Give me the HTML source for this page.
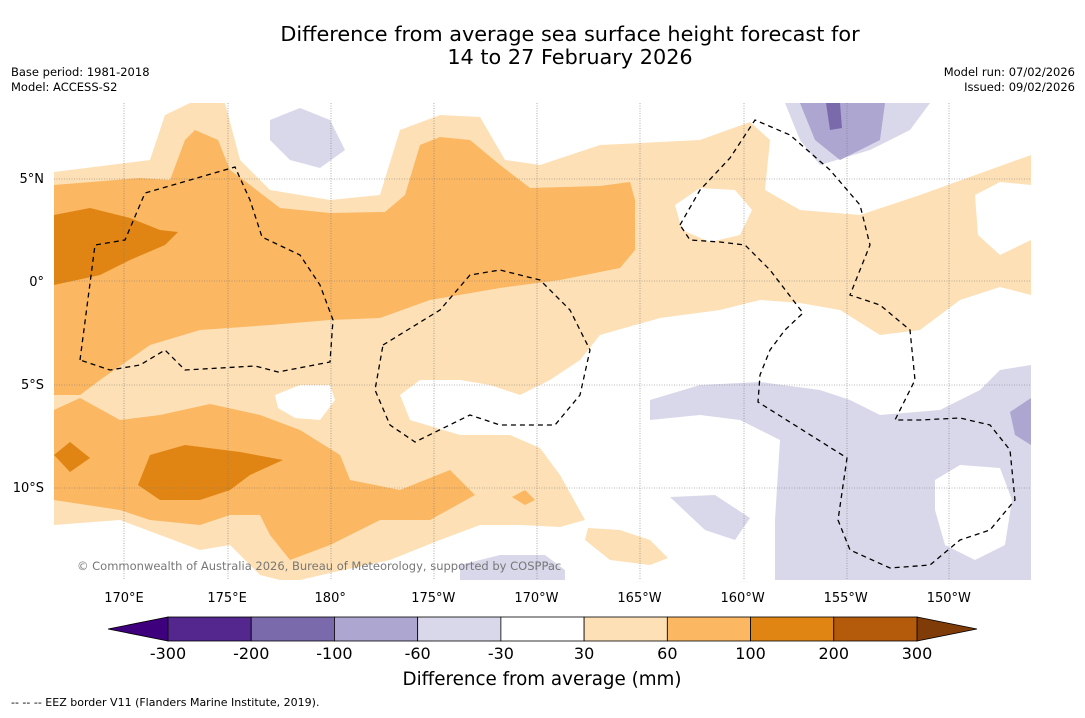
<!DOCTYPE html>
<html><head><meta charset="utf-8"><style>
body{margin:0;background:#fff;}
svg text{font-family:"DejaVu Sans","Liberation Sans",sans-serif;}
</style></head><body>
<svg id="fig" width="1085" height="713" viewBox="0 0 1085 713" xmlns="http://www.w3.org/2000/svg">
<rect width="1085" height="713" fill="#fff"/>
<text x="570" y="41" font-size="20.8" text-anchor="middle">Difference from average sea surface height forecast for</text>
<text x="570" y="64" font-size="20.8" text-anchor="middle">14 to 27 February 2026</text>
<text x="11" y="76" font-size="11.5">Base period: 1981-2018</text>
<text x="11" y="91" font-size="11.5">Model: ACCESS-S2</text>
<text x="1075" y="76" font-size="11.5" text-anchor="end">Model run: 07/02/2026</text>
<text x="1075" y="91" font-size="11.5" text-anchor="end">Issued: 09/02/2026</text>

<g id="map">
<clipPath id="mc"><rect x="54" y="103" width="977" height="477"/></clipPath>
<g clip-path="url(#mc)">
<polygon fill="#fde0b5" points="54,172 150,160 165,115 190,103 225,103 240,160 270,190 330,200 380,195 400,130 440,115 480,117 505,160 540,165 600,145 700,140 750,122 770,140 765,190 800,210 860,215 920,195 1031,155 1031,295 1000,287 960,300 920,330 880,335 840,310 800,303 760,300 720,310 660,318 600,335 580,360 550,380 520,395 490,385 460,380 420,380 400,395 410,420 460,435 510,435 540,448 560,475 585,520 560,527 520,525 480,525 440,540 390,560 330,573 300,580 54,580"/>
<polygon fill="#fff" points="275,395 300,385 330,385 335,400 320,420 295,418 278,408"/>
<polygon fill="#fff" points="675,205 700,188 735,190 752,210 740,235 710,242 682,230"/>
<polygon fill="#fff" points="975,195 1000,182 1031,185 1031,240 1000,255 978,235"/>
<polygon fill="#fff" points="54,525 120,520 200,550 230,545 260,575 280,580 54,580"/>
<polygon fill="#fde0b5" points="588,528 620,530 650,540 668,558 650,565 610,560 585,540"/>
<polygon fill="#fbb762" points="54,185 140,178 170,180 185,140 195,130 218,140 230,170 250,185 280,208 330,213 385,212 405,195 420,145 440,137 470,140 500,165 530,188 600,186 630,182 635,200 635,250 620,268 560,280 500,288 430,300 380,318 330,320 270,325 200,330 150,345 100,380 80,395 54,395"/>
<polygon fill="#fbb762" points="54,410 80,398 120,420 160,415 210,404 260,415 300,430 340,455 350,480 400,490 450,470 475,495 430,520 380,520 330,545 290,560 270,535 260,515 230,515 200,525 150,520 120,510 54,500"/>
<polygon fill="#e08514" points="54,215 90,208 130,218 160,230 178,232 165,245 130,260 100,275 54,285"/>
<polygon fill="#e08514" points="150,455 185,445 240,452 283,460 250,475 230,490 200,500 160,500 138,485"/>
<polygon fill="#e08514" points="54,455 70,442 90,458 70,472"/>
<polygon fill="#fbb762" points="512,497 525,490 535,500 525,505"/>
<polygon fill="#d8d8ea" points="270,120 300,108 330,120 345,150 320,168 290,160 270,140"/>
<polygon fill="#d8d8ea" points="785,103 930,103 910,130 870,150 820,165 800,140"/>
<polygon fill="#aca6d0" points="800,103 885,103 880,140 840,160 815,140"/>
<polygon fill="#7b6aab" points="826,103 840,103 842,128 830,130"/>
<polygon fill="#d8d8ea" points="650,400 700,385 760,382 820,390 850,400 880,415 940,410 980,390 1000,370 1031,365 1031,580 775,580 775,520 780,440 740,420 700,415 650,420"/>
<polygon fill="#fff" points="935,480 960,465 1000,468 1012,500 1005,545 975,560 945,545 935,510"/>
<polygon fill="#aca6d0" points="1010,412 1031,398 1031,445 1015,435"/>
<polygon fill="#d8d8ea" points="670,497 715,495 750,518 735,540 705,530"/>
<polygon fill="#d8d8ea" points="460,565 500,555 545,555 565,570 565,580 460,580"/>
<g stroke="#777" stroke-width="0.6" stroke-dasharray="1,1.5">
<line x1="124" y1="103" x2="124" y2="580"/><line x1="228" y1="103" x2="228" y2="580"/><line x1="331" y1="103" x2="331" y2="580"/><line x1="434" y1="103" x2="434" y2="580"/><line x1="537" y1="103" x2="537" y2="580"/><line x1="640" y1="103" x2="640" y2="580"/><line x1="744" y1="103" x2="744" y2="580"/><line x1="847" y1="103" x2="847" y2="580"/><line x1="949" y1="103" x2="949" y2="580"/>
<line x1="54" y1="179" x2="1031" y2="179"/><line x1="54" y1="281" x2="1031" y2="281"/><line x1="54" y1="385" x2="1031" y2="385"/><line x1="54" y1="488" x2="1031" y2="488"/>
</g>
<g fill="none" stroke="#000" stroke-width="1.3" stroke-dasharray="5,4">
<polyline points="80,360 95,245 125,240 145,193 235,167 250,200 262,237 300,255 320,285 333,320 330,362 278,372 255,366 185,370 165,350 140,365 110,370 80,360"/>
<polyline points="383,345 440,310 470,275 500,270 540,280 570,310 590,350 580,395 555,425 500,425 470,415 415,442 390,425 375,390 383,345"/>
<polyline points="680,225 700,190 730,158 755,120 790,135 830,170 860,205 870,245 850,295 880,305 910,330 915,380 895,420 920,420 960,418 990,425 1010,450 1015,500 990,530 960,540 930,565 890,568 850,550 838,520 847,458 758,402 760,375 770,350 785,330 803,313 770,270 745,245 720,242 690,240 680,225"/>
</g>
<text x="77" y="570" font-size="11.5" fill="#777">© Commonwealth of Australia 2026, Bureau of Meteorology, supported by COSPPac</text>
</g>
</g>
<g font-size="13" id="axes"></g>
<g id="cbar"></g>
<text x="542" y="685" font-size="18.3" text-anchor="middle">Difference from average (mm)</text>
<text x="11" y="706" font-size="11">--  --  -- EEZ border V11 (Flanders Marine Institute, 2019).</text>
</svg>
<script>
const lonLabels=["170°E","175°E","180°","175°W","170°W","165°W","160°W","155°W","150°W"];
const latLabels=["5°N","0°","5°S","10°S"];
const cbColors=["#54278f","#7b6aab","#aca6d0","#d8d8ea","#ffffff","#fde0b5","#fbb762","#e08514","#b35a0b"];
const cbTicks=["-300","-200","-100","-60","-30","30","60","100","200","300"];
const NS="http://www.w3.org/2000/svg";
const ax=document.getElementById('axes');
const lonX=i=>124+i*103.1, latY=i=>179+i*103;
lonLabels.forEach((l,i)=>{const t=document.createElementNS(NS,'text');t.setAttribute('x',lonX(i));t.setAttribute('y',602);t.setAttribute('text-anchor','middle');t.textContent=l;


ax.appendChild(t);});
latLabels.forEach((l,i)=>{const t=document.createElementNS(NS,'text');t.setAttribute('x',44);t.setAttribute('y',latY(i)+4);t.setAttribute('text-anchor','end');t.textContent=l;


ax.appendChild(t);});
const cb=document.getElementById('cbar');
const x0=168,w=(917-168)/cbColors.length,y0=617,h=24;
function tri(pts,fill){const p=document.createElementNS(NS,'polygon');p.setAttribute('points',pts);p.setAttribute('fill',fill);p.setAttribute('stroke','#000');p.setAttribute('stroke-width','0.8');


cb.appendChild(p);}
tri(`${x0},${y0} ${x0},${y0+h} 108,${y0+h/2}`,"#3f007d");
tri(`917,${y0} 917,${y0+h} 977,${y0+h/2}`,"#7f3b08");
cbColors.forEach((c,i)=>{const r=document.createElementNS(NS,'rect');r.setAttribute('x',x0+i*w);r.setAttribute('y',y0);r.setAttribute('width',w);r.setAttribute('height',h);r.setAttribute('fill',c);r.setAttribute('stroke','#000');r.setAttribute('stroke-width','0.8');


cb.appendChild(r);});
cbTicks.forEach((l,i)=>{const t=document.createElementNS(NS,'text');t.setAttribute('x',x0+i*w);t.setAttribute('y',659);t.setAttribute('font-size','16');t.setAttribute('text-anchor','middle');t.textContent=l;


cb.appendChild(t);});
</script>
</body></html>
